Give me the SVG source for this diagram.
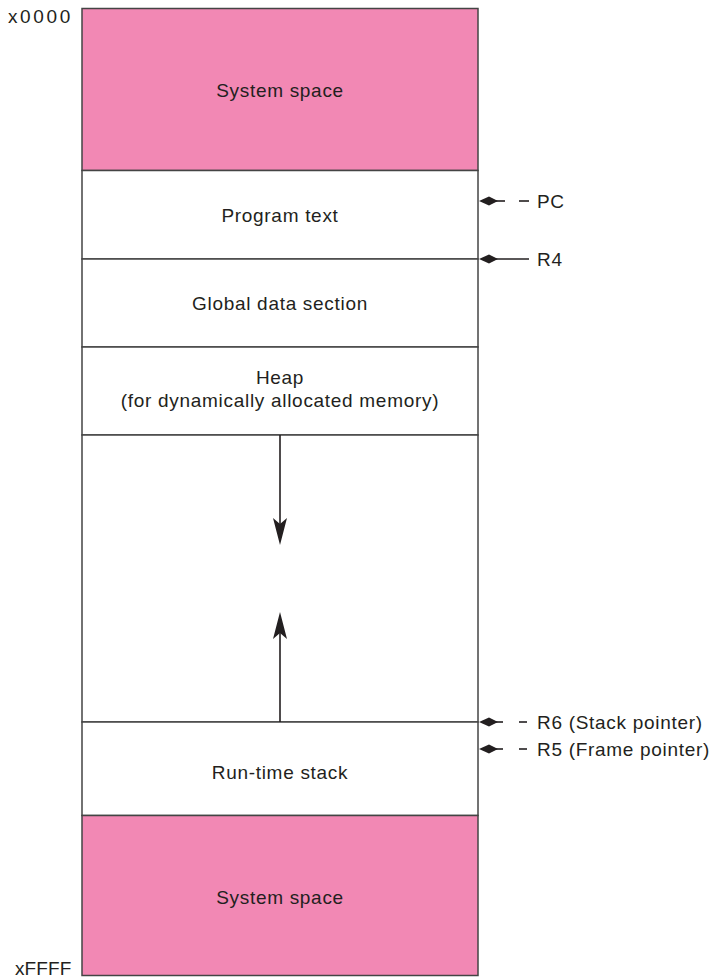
<svg xmlns="http://www.w3.org/2000/svg" width="712" height="980" viewBox="0 0 712 980">
<style>
text{font-family:"Liberation Sans",Arial,sans-serif;font-size:19px;letter-spacing:0.7px;fill:#231f20}
.c{text-anchor:middle}
.box{stroke:#444;stroke-width:1.5}
.pink{fill:#f288b4}
.white{fill:#fff}
.ln{stroke:#231f20;stroke-width:1.6;fill:none}
.ah{fill:#231f20}
</style>
<defs>
<path id="lh" d="M0,0 L10,-4.5 L19,0 L10,4.5 Z"/>
</defs>
<g id="system-top"><rect class="box pink" x="82" y="8.5" width="396" height="162"/><text class="c" x="280" y="97">System space</text></g>
<g id="program-text"><rect class="box white" x="82" y="170.5" width="396" height="88.5"/><text class="c" x="280" y="222">Program text</text></g>
<g id="global-data"><rect class="box white" x="82" y="259" width="396" height="88"/><text class="c" x="280" y="310">Global data section</text></g>
<g id="heap"><rect class="box white" x="82" y="347" width="396" height="88"/><text class="c" x="280" y="384">Heap</text><text class="c" x="280" y="407">(for dynamically allocated memory)</text></g>
<g id="free"><rect class="box white" x="82" y="435" width="396" height="287"/></g>
<g id="stack"><rect class="box white" x="82" y="722" width="396" height="93.5"/><text class="c" x="280" y="779">Run-time stack</text></g>
<g id="system-bottom"><rect class="box pink" x="82" y="815.5" width="396" height="160"/><text class="c" x="280" y="904">System space</text></g>
<g id="addr"><text x="8" y="23" textLength="63">x0000</text><text x="15" y="975" textLength="57">xFFFF</text></g>
<g id="connectors">
<line class="ln" x1="280" y1="435" x2="280" y2="530"/>
<path class="ah" d="M280,545 L273,518 L280,524 L287,518 Z"/>
<line class="ln" x1="280" y1="722" x2="280" y2="626"/>
<path class="ah" d="M280,612 L273,639 L280,633 L287,639 Z"/>
<use href="#lh" class="ah" x="479" y="201"/><line class="ln" x1="490" y1="201" x2="505" y2="201"/><line class="ln" x1="519" y1="201" x2="529" y2="201"/>
<use href="#lh" class="ah" x="479" y="259"/><line class="ln" x1="490" y1="259" x2="529" y2="259"/>
<use href="#lh" class="ah" x="479" y="722"/><line class="ln" x1="490" y1="722" x2="503" y2="722"/><line class="ln" x1="519" y1="722" x2="527" y2="722"/>
<use href="#lh" class="ah" x="479" y="749"/><line class="ln" x1="490" y1="749" x2="503" y2="749"/><line class="ln" x1="519" y1="749" x2="527" y2="749"/>
</g>
<g id="labels">
<text x="537" y="208">PC</text>
<text x="537" y="266">R4</text>
<text x="537" y="729">R6 (Stack pointer)</text>
<text x="537" y="756">R5 (Frame pointer)</text>
</g>
</svg>
